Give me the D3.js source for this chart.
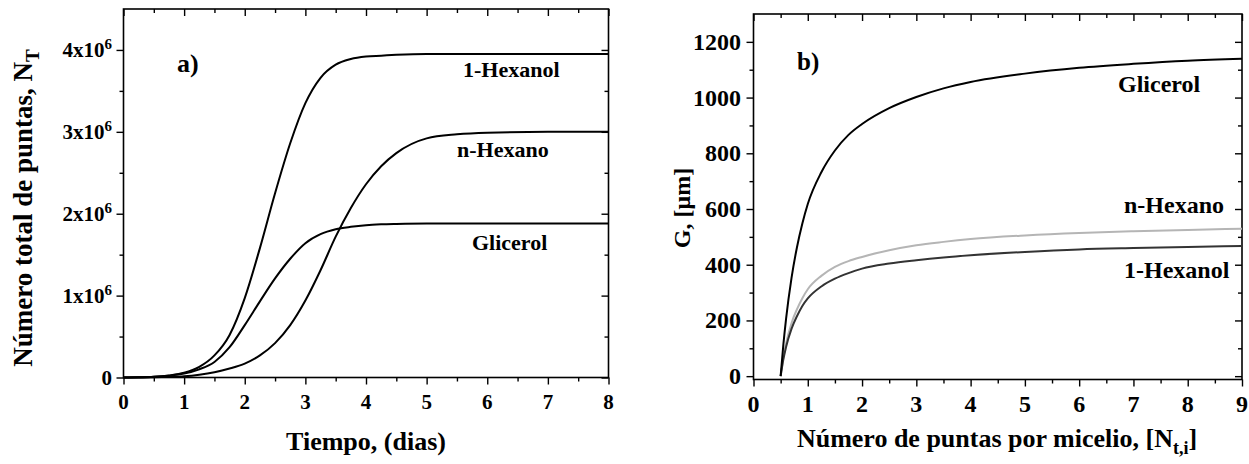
<!DOCTYPE html>
<html><head><meta charset="utf-8">
<script src="https://cdn.jsdelivr.net/npm/d3@7"></script>
<style>
html,body{margin:0;padding:0;background:#fff;}
svg text{font-family:"Liberation Serif","Times New Roman",serif;font-weight:bold;fill:#000;}
</style></head>
<body><svg id="c" width="1249" height="464"></svg>
<script>
// ---------- Panel a data ----------
const timeA = [0,0.25,0.5,0.75,1,1.25,1.5,1.75,2,2.25,2.5,2.75,3,3.25,3.5,3.75,4,4.25,4.5,5,5.5,6,7,8];
const hexanolA = [0,0.002,0.008,0.025,0.057,0.13,0.27,0.52,0.97,1.58,2.25,2.86,3.35,3.66,3.82,3.89,3.92,3.93,3.94,3.95,3.95,3.95,3.95,3.95];
const glicerolA = [0,0.002,0.008,0.022,0.048,0.10,0.19,0.37,0.64,0.93,1.21,1.45,1.64,1.75,1.81,1.84,1.86,1.87,1.875,1.88,1.88,1.88,1.88,1.88];
const hexanoA = [0,0.001,0.003,0.008,0.016,0.035,0.065,0.11,0.17,0.27,0.42,0.64,0.94,1.31,1.72,2.07,2.36,2.58,2.74,2.92,2.97,2.99,3.0,3.0];
const xTicksA = [0,1,2,3,4,5,6,7,8];
const yTicksA = [0,1,2,3,4]; // x10^6
const seriesNamesA = ["1-Hexanol","n-Hexano","Glicerol"];

// ---------- Panel b data ----------
const tipsB = [0.5,0.55,0.6,0.7,0.8,0.9,1,1.25,1.5,1.75,2,2.5,3,3.5,4,5,6,7,8,9];
const glicerolB = [0,113,206,352,462,548,618,732,810,866,905,962,1002,1033,1056,1086,1107,1121,1132,1139];
const hexanoB = [0,66,117,190,240,280,312,360,392,413,428,452,470,482,492,505,514,520,525,529];
const hexanolB = [0,60,105,170,215,252,279,322,350,370,386,404,416,426,434,446,455,460,464,467];
const xTicksB = [0,1,2,3,4,5,6,7,8,9];
const yTicksB = [0,200,400,600,800,1000,1200];

const svg = d3.select("#c");

function frameAxes(g, x, y, xMajor, xMinor, yMajor, yMinor){
  const [x0,x1] = x.range(), [y0,y1] = y.range();
  const mk = (ax, vals, size) => ax.tickValues(vals).tickSize(size).tickSizeOuter(0).tickFormat("");
  const style = s => { s.select(".domain").remove(); s.selectAll("line").attr("stroke","#000").attr("stroke-width",1.4); };
  g.append("g").attr("transform",`translate(0,${y0})`).call(mk(d3.axisBottom(x),xMajor,7)).call(style);
  g.append("g").attr("transform",`translate(0,${y0})`).call(mk(d3.axisBottom(x),xMinor,4)).call(style);
  g.append("g").attr("transform",`translate(0,${y1})`).call(mk(d3.axisTop(x),xMajor,-7)).call(style);
  g.append("g").attr("transform",`translate(0,${y1})`).call(mk(d3.axisTop(x),xMinor,-4)).call(style);
  g.append("g").attr("transform",`translate(${x0},0)`).call(mk(d3.axisLeft(y),yMajor,7)).call(style);
  g.append("g").attr("transform",`translate(${x0},0)`).call(mk(d3.axisLeft(y),yMinor,4)).call(style);
  g.append("g").attr("transform",`translate(${x1},0)`).call(mk(d3.axisRight(y),yMajor,-7)).call(style);
  g.append("g").attr("transform",`translate(${x1},0)`).call(mk(d3.axisRight(y),yMinor,-4)).call(style);
  g.append("rect").attr("x",x0).attr("y",y1).attr("width",x1-x0).attr("height",y0-y1)
    .attr("fill","none").attr("stroke","#000").attr("stroke-width",1.6);
}

// ================= Panel a =================
const xA = d3.scaleLinear().domain([0,8]).range([123.5,608.5]);
const yA = d3.scaleLinear().domain([0,4.5]).range([377.5,9]);
const gA = svg.append("g");
frameAxes(gA, xA, yA, xTicksA, d3.range(0.5,8,1), yTicksA, [0.5,1.5,2.5,3.5]);

const lineA = d3.line().x((d,i)=>xA(timeA[i])).y(d=>yA(d)).curve(d3.curveMonotoneX);
[hexanolA, hexanoA, glicerolA].forEach(s=>{
  gA.append("path").attr("d",lineA(s)).attr("fill","none").attr("stroke","#000").attr("stroke-width",2);
});

gA.selectAll(".xl").data(xTicksA).enter().append("text")
  .attr("x",d=>xA(d)).attr("y",408.5).attr("text-anchor","middle").attr("font-size",21).text(d=>d);
yTicksA.forEach(v=>{
  const t = gA.append("text").attr("x",112).attr("y",yA(v)+7).attr("text-anchor","end").attr("font-size",21);
  if(v===0){ t.text("0"); }
  else { t.append("tspan").text(v+"x10"); t.append("tspan").attr("dy",-8).attr("font-size",15).text("6"); }
});
{
  const t = gA.append("text").attr("transform","translate(32,208) rotate(-90)").attr("text-anchor","middle").attr("font-size",27);
  t.append("tspan").text("Número total de puntas, N");
  t.append("tspan").attr("dy",7).attr("font-size",19).text("T");
}
gA.append("text").attr("x",366).attr("y",450).attr("text-anchor","middle").attr("font-size",26).text("Tiempo, (dias)");
gA.append("text").attr("x",177).attr("y",72).attr("font-size",26).text("a)");
const labA = [[463,77],[457,157],[472,250]];
seriesNamesA.forEach((n,i)=>gA.append("text").attr("x",labA[i][0]).attr("y",labA[i][1]).attr("font-size",22).text(n));

// ================= Panel b =================
const xB = d3.scaleLinear().domain([0,9]).range([753.5,1242]);
const yB = d3.scaleLinear().domain([-12,1300]).range([379.5,14]);
const gB = svg.append("g");
frameAxes(gB, xB, yB, xTicksB, d3.range(0.5,9,1), yTicksB, [100,300,500,700,900,1100]);

const lineB = d3.line().x((d,i)=>xB(tipsB[i])).y(d=>yB(d)).curve(d3.curveMonotoneX);
[[hexanoB,"#b5b5b5"],[hexanolB,"#333333"],[glicerolB,"#000000"]].forEach(([s,c])=>{
  gB.append("path").attr("d",lineB(s)).attr("fill","none").attr("stroke",c).attr("stroke-width",2);
});

gB.selectAll(".xl").data(xTicksB).enter().append("text")
  .attr("x",d=>xB(d)).attr("y",411.5).attr("text-anchor","middle").attr("font-size",24).text(d=>d);
gB.selectAll(".yl").data(yTicksB).enter().append("text")
  .attr("x",741).attr("y",d=>yB(d)+8).attr("text-anchor","end").attr("font-size",24).text(d=>d);
gB.append("text").attr("transform","translate(690,208) rotate(-90)").attr("text-anchor","middle").attr("font-size",24).text("G, [μm]");
{
  const t = gB.append("text").attr("x",997).attr("y",447).attr("text-anchor","middle").attr("font-size",26);
  t.append("tspan").text("Número de puntas por micelio, [N");
  t.append("tspan").attr("dy",7).attr("font-size",18).text("t,i");
  t.append("tspan").attr("dy",-7).text("]");
}
gB.append("text").attr("x",797).attr("y",70).attr("font-size",25).text("b)");
gB.append("text").attr("x",1118).attr("y",91.5).attr("font-size",24).text("Glicerol");
gB.append("text").attr("x",1124).attr("y",213).attr("font-size",24).text("n-Hexano");
gB.append("text").attr("x",1124).attr("y",277.5).attr("font-size",24).text("1-Hexanol");
</script></body></html>
